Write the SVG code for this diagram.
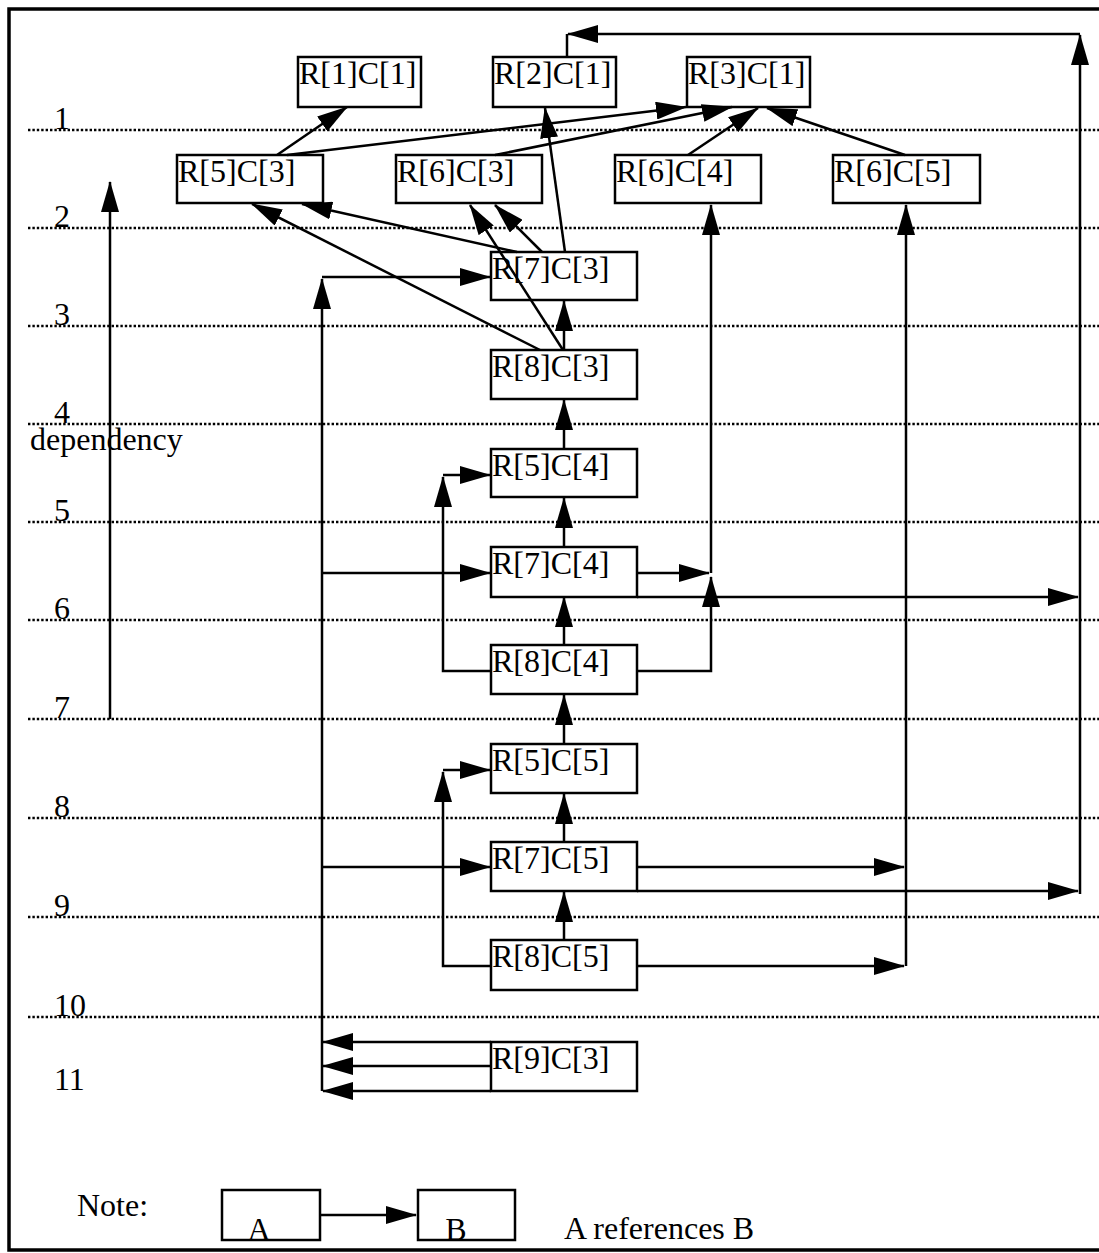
<svg xmlns="http://www.w3.org/2000/svg" width="1099" height="1253" viewBox="0 0 1099 1253">
<style>
.box{fill:none;stroke:#000;stroke-width:2.5}
.t{font-family:"Liberation Serif","Times New Roman",serif;font-size:32px;fill:#000}
.dot{stroke:#000;stroke-width:2.6;stroke-dasharray:2.4 2;fill:none}
.c{fill:none;stroke:#000;stroke-width:2.5}
.frame{fill:none;stroke:#000;stroke-width:3.5}
</style>
<defs>
<marker id="ah" markerUnits="userSpaceOnUse" markerWidth="31" markerHeight="18" viewBox="0 0 31 18" refX="30" refY="9" orient="auto">
<path d="M0,0 L31,9 L0,18 z" fill="#000"/>
</marker>
</defs>
<rect width="1099" height="1253" fill="#fff"/>
<path class="frame" d="M1110,9 H9 V1250 H1110"/>
<g id="levels">
<path class="dot" d="M28,130 H1099 M28,228 H1099 M28,326 H1099 M28,424 H1099 M28,522 H1099 M28,620 H1099 M28,719 H1099 M28,818 H1099 M28,917 H1099 M28,1017 H1099"/>
<text class="t" x="54" y="129">1</text>
<text class="t" x="54" y="227">2</text>
<text class="t" x="54" y="325">3</text>
<text class="t" x="54" y="423">4</text>
<text class="t" x="54" y="521">5</text>
<text class="t" x="54" y="619">6</text>
<text class="t" x="54" y="718">7</text>
<text class="t" x="54" y="817">8</text>
<text class="t" x="54" y="916">9</text>
<text class="t" x="54" y="1016">10</text>
<text class="t" x="54" y="1090">11</text>
<text class="t" x="30" y="450">dependency</text>
</g>
<g id="connectors">
<path class="c" d="M110,719 V182" marker-end="url(#ah)"/>
<path class="c" d="M637,597 H1078" marker-end="url(#ah)"/>
<path class="c" d="M637,891 H1078" marker-end="url(#ah)"/>
<path class="c" d="M1080,894 V35" marker-end="url(#ah)"/>
<path class="c" d="M1080,34 H568" marker-end="url(#ah)"/>
<path class="c" d="M567,34 V57"/>
<path class="c" d="M637,573 H709" marker-end="url(#ah)"/>
<path class="c" d="M711,573 V205" marker-end="url(#ah)"/>
<path class="c" d="M637,671 H711 V577" marker-end="url(#ah)"/>
<path class="c" d="M637,867 H904" marker-end="url(#ah)"/>
<path class="c" d="M637,966 H904" marker-end="url(#ah)"/>
<path class="c" d="M906,966 V205" marker-end="url(#ah)"/>
<path class="c" d="M322,1091 V279" marker-end="url(#ah)"/>
<path class="c" d="M322,277 H490" marker-end="url(#ah)"/>
<path class="c" d="M322,573 H490" marker-end="url(#ah)"/>
<path class="c" d="M322,867 H490" marker-end="url(#ah)"/>
<path class="c" d="M491,1042 H323" marker-end="url(#ah)"/>
<path class="c" d="M491,1066 H323" marker-end="url(#ah)"/>
<path class="c" d="M491,1091 H323" marker-end="url(#ah)"/>
<path class="c" d="M491,671 H443 V477" marker-end="url(#ah)"/>
<path class="c" d="M443,475 H490" marker-end="url(#ah)"/>
<path class="c" d="M491,966 H443 V772" marker-end="url(#ah)"/>
<path class="c" d="M443,770 H490" marker-end="url(#ah)"/>
<path class="c" d="M564,350 V301" marker-end="url(#ah)"/>
<path class="c" d="M564,449 V400" marker-end="url(#ah)"/>
<path class="c" d="M564,547 V498" marker-end="url(#ah)"/>
<path class="c" d="M564,645 V597" marker-end="url(#ah)"/>
<path class="c" d="M564,744 V695" marker-end="url(#ah)"/>
<path class="c" d="M564,842 V794" marker-end="url(#ah)"/>
<path class="c" d="M564,940 V892" marker-end="url(#ah)"/>
<path class="c" d="M277,155 L347,107" marker-end="url(#ah)"/>
<path class="c" d="M287,155 L686,107" marker-end="url(#ah)"/>
<path class="c" d="M495,155 L732,107" marker-end="url(#ah)"/>
<path class="c" d="M688,155 L758,108" marker-end="url(#ah)"/>
<path class="c" d="M905,155 L767,108" marker-end="url(#ah)"/>
<path class="c" d="M565,252 L545,108" marker-end="url(#ah)"/>
<path class="c" d="M517,252 L302,204" marker-end="url(#ah)"/>
<path class="c" d="M542,252 L495,205" marker-end="url(#ah)"/>
<path class="c" d="M540,350 L252,204" marker-end="url(#ah)"/>
<path class="c" d="M563,350 L470,205" marker-end="url(#ah)"/>
<path class="c" d="M320,1215 H416" marker-end="url(#ah)"/>
</g>
<g id="n_r1c1"><rect class="box" x="298" y="57" width="123" height="50"/><text class="t" x="299" y="84">R[1]C[1]</text></g>
<g id="n_r2c1"><rect class="box" x="493" y="57" width="123" height="50"/><text class="t" x="494" y="84">R[2]C[1]</text></g>
<g id="n_r3c1"><rect class="box" x="687" y="57" width="123" height="50"/><text class="t" x="688" y="84">R[3]C[1]</text></g>
<g id="n_r5c3"><rect class="box" x="177" y="155" width="146" height="48"/><text class="t" x="178" y="182">R[5]C[3]</text></g>
<g id="n_r6c3"><rect class="box" x="396" y="155" width="146" height="48"/><text class="t" x="397" y="182">R[6]C[3]</text></g>
<g id="n_r6c4"><rect class="box" x="615" y="155" width="146" height="48"/><text class="t" x="616" y="182">R[6]C[4]</text></g>
<g id="n_r6c5"><rect class="box" x="833" y="155" width="147" height="48"/><text class="t" x="834" y="182">R[6]C[5]</text></g>
<g id="n_r7c3"><rect class="box" x="491" y="252" width="146" height="48"/><text class="t" x="492" y="279">R[7]C[3]</text></g>
<g id="n_r8c3"><rect class="box" x="491" y="350" width="146" height="49"/><text class="t" x="492" y="377">R[8]C[3]</text></g>
<g id="n_r5c4"><rect class="box" x="491" y="449" width="146" height="48"/><text class="t" x="492" y="476">R[5]C[4]</text></g>
<g id="n_r7c4"><rect class="box" x="491" y="547" width="146" height="50"/><text class="t" x="492" y="574">R[7]C[4]</text></g>
<g id="n_r8c4"><rect class="box" x="491" y="645" width="146" height="49"/><text class="t" x="492" y="672">R[8]C[4]</text></g>
<g id="n_r5c5"><rect class="box" x="491" y="744" width="146" height="49"/><text class="t" x="492" y="771">R[5]C[5]</text></g>
<g id="n_r7c5"><rect class="box" x="491" y="842" width="146" height="49"/><text class="t" x="492" y="869">R[7]C[5]</text></g>
<g id="n_r8c5"><rect class="box" x="491" y="940" width="146" height="50"/><text class="t" x="492" y="967">R[8]C[5]</text></g>
<g id="n_r9c3"><rect class="box" x="491" y="1042" width="146" height="49"/><text class="t" x="492" y="1069">R[9]C[3]</text></g>
<g id="note">
<text class="t" x="77" y="1216">Note:</text>
<rect class="box" x="222" y="1190" width="98" height="50"/>
<text class="t" x="259" y="1240" text-anchor="middle">A</text>
<rect class="box" x="418" y="1190" width="97" height="50"/>
<text class="t" x="456" y="1240" text-anchor="middle">B</text>
<text class="t" x="564" y="1239">A references B</text>
</g>
</svg>
